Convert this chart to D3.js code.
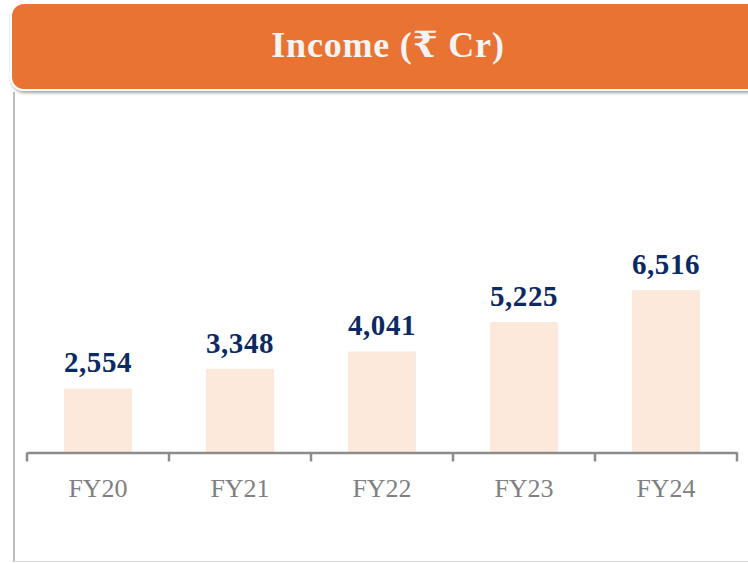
<!DOCTYPE html>
<html>
<head>
<meta charset="utf-8">
<script src="https://cdn.jsdelivr.net/npm/d3@7"></script>
<style>
  body { margin: 0; background: #fff; }
  svg { display: block; }
</style>
</head>
<body>
<div id="chart"></div>
<script>
// Data
const years = ['FY20', 'FY21', 'FY22', 'FY23', 'FY24'];
const income = [2554, 3348, 4041, 5225, 6516];
const title = 'Income (₹ Cr)';

const W = 748;
const H = 563;
const serif = "'Liberation Serif', 'DejaVu Serif', serif";

const svg = d3.select('#chart')
  .append('svg')
  .attr('width', W)
  .attr('height', H);

const defs = svg.append('defs');
const shadow = defs.append('filter')
  .attr('id', 'shadow')
  .attr('x', '-5%').attr('y', '-20%')
  .attr('width', '110%').attr('height', '150%');
shadow.append('feDropShadow')
  .attr('dx', 1).attr('dy', 2)
  .attr('stdDeviation', 1.5)
  .attr('flood-color', '#000')
  .attr('flood-opacity', 0.35);

// Panel borders (left + bottom)
svg.append('line')
  .attr('x1', 14).attr('x2', 14)
  .attr('y1', 92).attr('y2', 562)
  .attr('stroke', '#bdbdbd')
  .attr('stroke-width', 2);

svg.append('line')
  .attr('x1', 14).attr('x2', W)
  .attr('y1', 561.5).attr('y2', 561.5)
  .attr('stroke', '#d9d9d9')
  .attr('stroke-width', 1);

// Header banner
svg.append('rect')
  .attr('x', 11)
  .attr('y', 3)
  .attr('width', 775)
  .attr('height', 87)
  .attr('rx', 13)
  .attr('fill', '#E87332')
  .attr('stroke', '#fff')
  .attr('stroke-width', 2)
  .attr('filter', 'url(#shadow)');

svg.append('text')
  .attr('x', 388)
  .attr('y', 57)
  .attr('text-anchor', 'middle')
  .attr('fill', '#f4f4f4')
  .attr('font-family', serif)
  .attr('font-weight', 'bold')
  .attr('font-size', 36)
  .attr('letter-spacing', 0.8)
  .text(title);

// Scales
const x = d3.scaleBand()
  .domain(years)
  .range([27, 737])
  .paddingInner(0.52)
  .paddingOuter(0.26);

const y = d3.scaleLinear()
  .domain([0, 8000])
  .range([452, 253]);

// Bars
svg.append('g')
  .selectAll('rect')
  .data(years)
  .join('rect')
  .attr('x', d => x(d))
  .attr('y', (d, i) => y(income[i]))
  .attr('width', x.bandwidth())
  .attr('height', (d, i) => y(0) - y(income[i]))
  .attr('rx', 1.5)
  .attr('fill', '#FCE9DC');

// Value labels
svg.append('g')
  .selectAll('text')
  .data(years)
  .join('text')
  .attr('x', d => x(d) + x.bandwidth() / 2)
  .attr('y', (d, i) => y(income[i]) - 16)
  .attr('text-anchor', 'middle')
  .attr('fill', '#0B2A63')
  .attr('font-family', serif)
  .attr('font-weight', 'bold')
  .attr('font-size', 29)
  .attr('letter-spacing', 0.6)
  .text((d, i) => d3.format(',')(income[i]));

// X axis
const xAxis = d3.axisBottom(x)
  .tickSizeInner(0)
  .tickSizeOuter(0)
  .tickPadding(0);

const axisG = svg.append('g')
  .attr('transform', `translate(0, ${y(0) + 0.5})`)
  .call(xAxis);

axisG.select('.domain')
  .attr('stroke', '#8c8c8c')
  .attr('stroke-width', 2.5);

axisG.selectAll('.tick line').remove();

// category boundary ticks
const bounds = [27].concat(years.map(d => x(d) + x.bandwidth() + x.step() * x.paddingInner() / 2));
bounds[bounds.length - 1] = 737;
axisG.selectAll('.bound')
  .data(bounds)
  .join('line')
  .attr('class', 'bound')
  .attr('x1', d => d).attr('x2', d => d)
  .attr('y1', 0).attr('y2', 9)
  .attr('stroke', '#8c8c8c')
  .attr('stroke-width', 2.5);

axisG.selectAll('.tick text')
  .attr('y', 44)
  .attr('dy', 0)
  .attr('fill', '#808080')
  .attr('font-family', serif)
  .attr('font-size', 26);
</script>
</body>
</html>
